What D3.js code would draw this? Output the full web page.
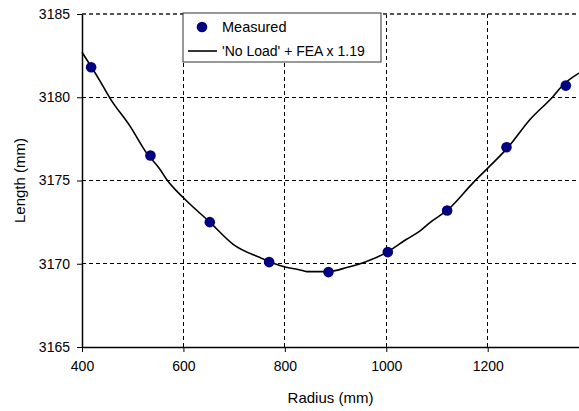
<!DOCTYPE html>
<html>
<head>
<meta charset="utf-8">
<script src="https://cdn.jsdelivr.net/npm/d3@7"></script>
<style>
  body { margin: 0; background: #fff; }
  text { font-family: "Liberation Sans", Arial, sans-serif; }
</style>
</head>
<body>
<div id="draw"></div>
<script>
// measured points
var measuredX = [418, 535, 652, 769, 886, 1003, 1120, 1237, 1354];
var measuredY = [3181.8, 3176.5, 3172.5, 3170.1, 3169.5, 3170.7, 3173.2, 3177.0, 3180.7];

// 'No Load' + FEA x 1.19 curve
var fitX = [400, 435, 455, 495, 527, 554, 567, 600, 652, 698, 751, 797, 830, 843, 885, 922, 961, 1000, 1040, 1066, 1086, 1122, 1171, 1204, 1240, 1283, 1329, 1349, 1380];
var fitY = [3182.7, 3181.0, 3179.95, 3178.25, 3176.66, 3175.66, 3175.06, 3173.96, 3172.5, 3171.17, 3170.37, 3169.83, 3169.63, 3169.53, 3169.53, 3169.77, 3170.13, 3170.67, 3171.47, 3171.96, 3172.47, 3173.26, 3174.86, 3175.86, 3176.99, 3178.65, 3180.05, 3180.75, 3181.45];

var xTicks = [400, 600, 800, 1000, 1200];
var yTicks = [3165, 3170, 3175, 3180, 3185];

var margin = { top: 14, right: 0, bottom: 64, left: 82 },
	width = 579 - margin.left - margin.right,
	height = 411 - margin.top - margin.bottom;

var svg = d3
	.select('#draw')
	.append('svg')
	.attr('width', 579)
	.attr('height', 411)
	.append('g')
	.attr('transform', 'translate(' + margin.left + ',' + margin.top + ')');

var x = d3.scaleLinear().domain([400, 1380]).range([0, width]);
var y = d3.scaleLinear().domain([3165, 3185]).range([height, 0]);

// grid
svg
	.selectAll('.vgrid')
	.data(xTicks.slice(1))
	.enter()
	.append('line')
	.attr('x1', function (d) { return x(d); })
	.attr('x2', function (d) { return x(d); })
	.attr('y1', 0)
	.attr('y2', height)
	.style('stroke', '#000')
	.style('stroke-dasharray', '4,3')
	.style('shape-rendering', 'crispEdges');

svg
	.selectAll('.hgrid')
	.data(yTicks.slice(1))
	.enter()
	.append('line')
	.attr('x1', 0)
	.attr('x2', width)
	.attr('y1', function (d) { return y(d); })
	.attr('y2', function (d) { return y(d); })
	.style('stroke', function (d) { return d === 3185 ? '#555' : '#000'; })
	.style('stroke-width', function (d) { return d === 3185 ? 1.5 : 1; })
	.style('stroke-dasharray', '4,3')
	.style('shape-rendering', 'crispEdges');

// axes
var xAxis = svg
	.append('g')
	.attr('transform', 'translate(0,' + height + ')')
	.call(d3.axisBottom(x).tickValues(xTicks).tickFormat(d3.format('d')).tickSize(5).tickPadding(9).tickSizeOuter(0));
var yAxis = svg
	.append('g')
	.call(d3.axisLeft(y).tickValues(yTicks).tickFormat(d3.format('d')).tickSize(5).tickPadding(7).tickSizeOuter(0));

[xAxis, yAxis].forEach(function (a) {
	a.select('.domain').style('stroke', '#000').style('stroke-width', 1.5);
	a.selectAll('.tick line').style('stroke', '#000');
	a.selectAll('text').style('font-size', '14px').style('fill', '#000')
		.style('font-family', '"Liberation Sans", Arial, sans-serif');
});

// curve
var line = d3.line()
	.curve(d3.curveMonotoneX)
	.x(function (d) { return x(d[0]); })
	.y(function (d) { return y(d[1]); });

svg
	.append('path')
	.datum(fitX.map(function (v, i) { return [v, fitY[i]]; }))
	.attr('d', line)
	.style('fill', 'none')
	.style('stroke', '#000')
	.style('stroke-width', 1.6);

// points
svg
	.selectAll('.pt')
	.data(measuredX)
	.enter()
	.append('circle')
	.attr('cx', function (d) { return x(d); })
	.attr('cy', function (d, i) { return y(measuredY[i]); })
	.attr('r', 5.3)
	.style('fill', '#000080');

// axis titles
svg
	.append('text')
	.attr('x', x(890))
	.attr('y', height + 56)
	.style('text-anchor', 'middle')
	.style('font-size', '15px')
	.text('Radius (mm)');

svg
	.append('text')
	.attr('transform', 'translate(' + (-57) + ',' + (height / 2) + ') rotate(-90)')
	.style('text-anchor', 'middle')
	.style('font-size', '15px')
	.text('Length (mm)');

// legend
var legend = svg.append('g').attr('transform', 'translate(101,-1)');
legend
	.append('rect')
	.attr('width', 198)
	.attr('height', 49)
	.style('fill', '#fff')
	.style('stroke', '#333');
legend
	.append('circle')
	.attr('cx', 19)
	.attr('cy', 14)
	.attr('r', 5.3)
	.style('fill', '#000080');
legend
	.append('text')
	.attr('x', 39)
	.attr('y', 19)
	.style('font-size', '14.5px')
	.text('Measured');
legend
	.append('line')
	.attr('x1', 5)
	.attr('x2', 34)
	.attr('y1', 38)
	.attr('y2', 38)
	.style('stroke', '#000')
	.style('stroke-width', 1.6);
legend
	.append('text')
	.attr('x', 39)
	.attr('y', 43)
	.style('font-size', '14px')
	.text("'No Load' + FEA x 1.19");
</script>
</body>
</html>
